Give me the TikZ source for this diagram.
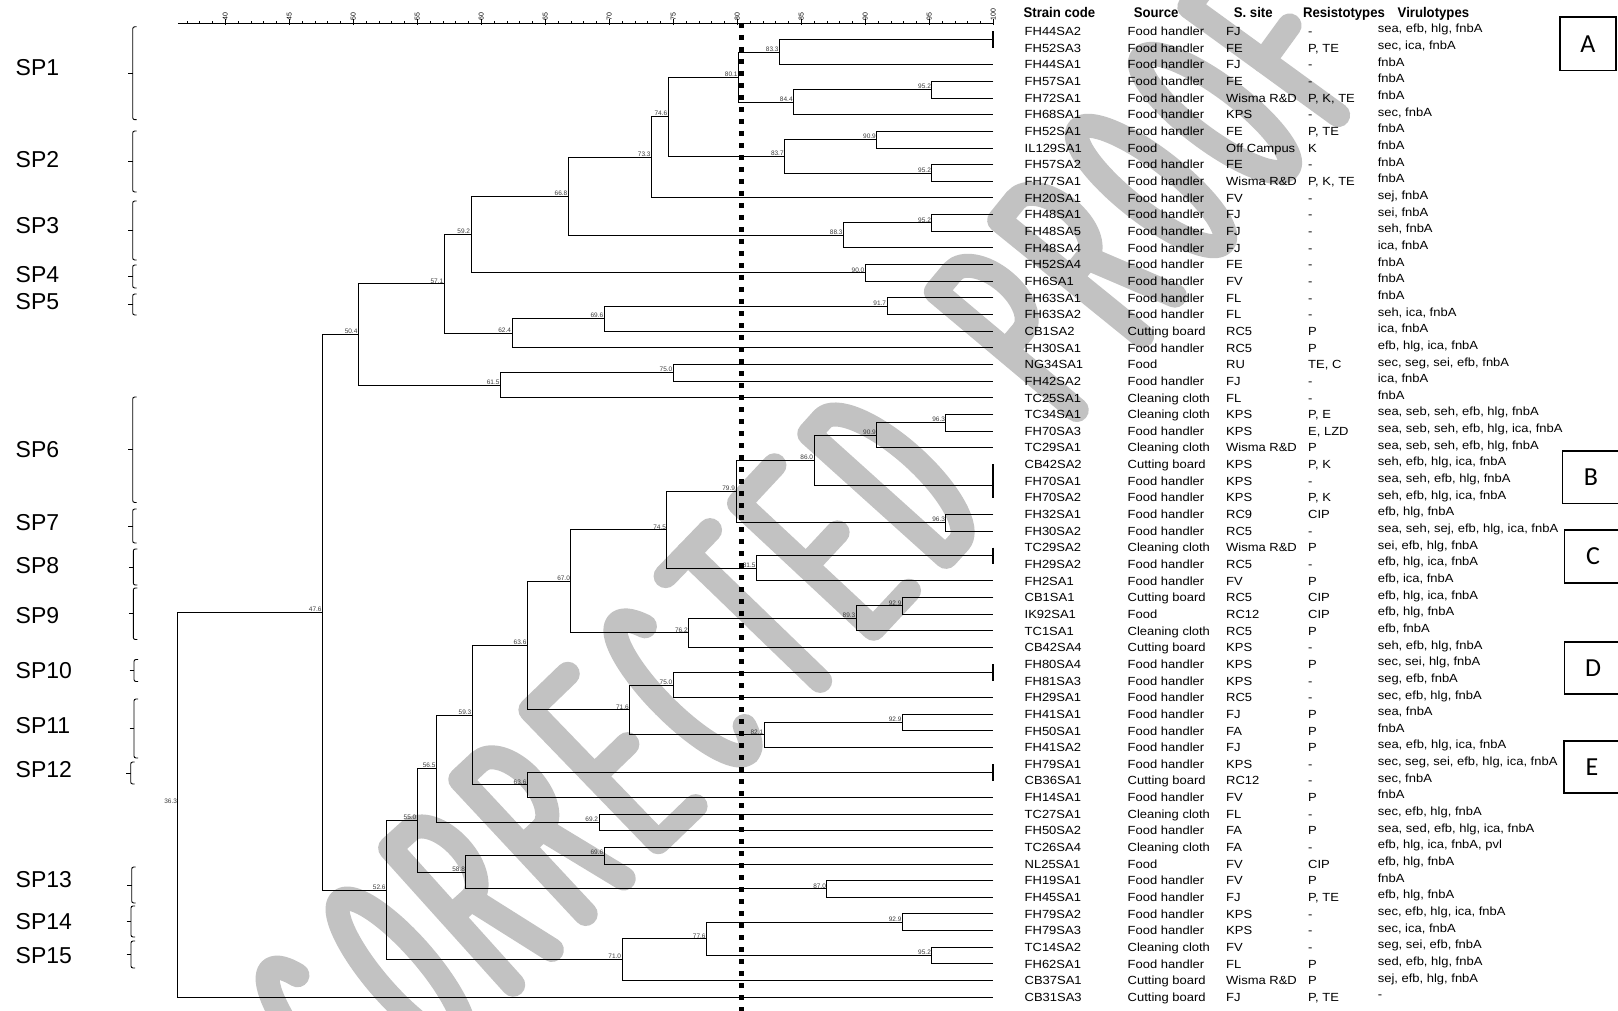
\documentclass[tikz,border=0pt]{standalone}
\usepackage{fontspec}
\setmainfont{Liberation Sans}
\newfontfamily\tabf[FakeStretch=1.1]{Liberation Sans}
\newfontfamily\hdrf[FakeStretch=0.94]{Liberation Sans}
\newfontfamily\boxf{Carlito}
\usetikzlibrary{calc}
\definecolor{wmgray}{RGB}{194,194,194}
\definecolor{labgray}{RGB}{60,60,60}

\newcommand\Xv[1]{(993.3-(100-#1)*12.8)}
\newcommand\Yr[1]{(31.5+(#1-1)*16.65)}

\newcommand\dnode[4]{%
  \path let \p1=(#3), \p2=(#4) in coordinate (#1) at ({\Xv{#2}*1pt},{(\y1+\y2)/2});
  \draw[dline] (#3) -| (#1) |- (#4);
  \node[vlab] (lab#1) at (#1) {#2};}
\newcommand\bnode[3]{%
  \draw[bline] (#2) -- (#3);
  \path let \p1=(#2), \p2=(#3) in coordinate (#1) at (\x1,{(\y1+\y2)/2});}
\newcommand\trow[6]{%
  \node[tcell] (code#1) at (1024.5,{-(\Yr{#1}+4.2)}) {#2};
  \node[tcell] (src#1) at (1127.5,{-(\Yr{#1}+4.2)}) {#3};
  \node[tcell] (site#1) at (1226,{-(\Yr{#1}+4.2)}) {#4};
  \node[tcell] (res#1) at (1308,{-(\Yr{#1}+4.2)}) {#5};
  \node[tcell] (vir#1) at (1377.6,{-(\Yr{#1}+1.5)}) {#6};}
\newcommand\spb[6]{%
  \node[splab] (#1) at (15.5,-#6) {#2};
  \draw[brk] ({#3+4},-#4) -- (#3,-#4) -- (#3,-#5) -- ({#3+4},-#5);
  \draw[brk] ({#3-4.5},{-(#4+#5)/2}) -- (#3,{-(#4+#5)/2});}

% watermark letters: half width 26, half height 92 (centre line)
\newcommand\wlC{\draw[wm] (16.7,70.5) arc[start angle=50,end angle=310,x radius=26,y radius=92];}
\newcommand\wlO{\draw[wm] (0,0) ellipse [x radius=26,y radius=92];}
\newcommand\wlR{\draw[wm] (-26,-92) -- (-26,92) -- (0,92) arc[start angle=90,end angle=-90,x radius=26,y radius=46] -- (-26,0); \draw[wm] (0,0) -- (26,-92);}
\newcommand\wlE{\draw[wm] (26,92) -- (-26,92) -- (-26,-92) -- (26,-92); \draw[wm] (-26,0) -- (20,0);}
\newcommand\wlT{\draw[wm] (-32,92) -- (32,92); \draw[wm] (0,92) -- (0,-92);}
\newcommand\wlD{\draw[wm] (-26,92) -- (-26,-92) -- (-6,-92) arc[start angle=-90,end angle=90,x radius=32,y radius=92] -- cycle;}
\newcommand\wlP{\draw[wm] (-26,-92) -- (-26,92) -- (0,92) arc[start angle=90,end angle=-90,x radius=26,y radius=46] -- (-26,0);}
\newcommand\wlF{\draw[wm] (26,92) -- (-26,92) -- (-26,-92); \draw[wm] (-26,0) -- (18,0);}
\newcommand\wmat[4]{\begin{scope}[shift={(#1,-#2)},rotate=#3]#4\end{scope}}

\tikzset{
  dline/.style={line width=1pt},
  bline/.style={line width=1.8pt},
  vlab/.style={anchor=south east, inner sep=0pt, xshift=-0.8pt, yshift=0.6pt, font=\fontsize{6.5}{7}\selectfont, text=labgray},
  tcell/.style={anchor=base west, inner sep=0pt, font=\tabf\fontsize{11.8}{13}\selectfont},
  thead/.style={anchor=base west, inner sep=0pt, font=\hdrf\bfseries\fontsize{14}{16}\selectfont},
  splab/.style={anchor=west, inner sep=0pt, font=\fontsize{23}{26}\selectfont},
  brk/.style={line width=0.9pt, rounded corners=2pt},
  boxline/.style={line width=1.6pt},
  boxlet/.style={inner sep=0pt, font=\boxf\fontsize{26}{30}\selectfont},
  wm/.style={draw=wmgray, line width=24pt, line cap=round, line join=round},
  axl/.style={rotate=90, anchor=west, inner sep=0pt, font=\fontsize{7}{8}\selectfont},
}

\begin{document}
\begin{tikzpicture}[x=1pt,y=1pt]
\useasboundingbox (0,0) rectangle (1618,-1011);
\fill[white] (0,0) rectangle (1618,-1011);

% watermark
\wmat{330}{1040}{40}{\wlC}
\wmat{401}{970}{41}{\wlO}
\wmat{471}{899}{42}{\wlR}
\wmat{542}{829}{43}{\wlR}
\wmat{613}{758}{44}{\wlE}
\wmat{683}{688}{45}{\wlC}
\wmat{754}{617}{46}{\wlT}
\wmat{824}{547}{47}{\wlE}
\wmat{895}{476}{48}{\wlD}
\wmat{1023}{331}{50}{\wlP}
\wmat{1087}{258}{51}{\wlR}
\wmat{1151}{186}{52}{\wlO}
\wmat{1215}{113}{53}{\wlO}
\wmat{1279}{40}{54}{\wlF}

% axis
\draw[line width=0.9pt] ({\Xv{36.3}},-23.3) -- (993.3,-23.3);
\foreach \v in {37,...,100} \draw[line width=0.7pt] ({\Xv{\v}},-23.3) -- ({\Xv{\v}},-21);
\foreach \v in {40,45,...,100} {
  \draw[line width=0.8pt] ({\Xv{\v}},-19.3) -- ({\Xv{\v}},-25.3);
  \node[axl] (ax\v) at ({\Xv{\v}},-20.6) {\v};
}

% leaves
\foreach \k in {1,...,59} \coordinate (L\k) at (993.3,{-\Yr{\k}});

% dendrogram
\bnode{a100}{L1}{L2}
\dnode{n833}{83.3}{a100}{L3}
\dnode{n952a}{95.2}{L4}{L5}
\dnode{n844}{84.4}{n952a}{L6}
\dnode{n801}{80.1}{n833}{n844}
\dnode{n909a}{90.9}{L7}{L8}
\dnode{n952b}{95.2}{L9}{L10}
\dnode{n837}{83.7}{n909a}{n952b}
\dnode{n746}{74.6}{n801}{n837}
\dnode{n733}{73.3}{n746}{L11}
\dnode{n952c}{95.2}{L12}{L13}
\dnode{n883}{88.3}{n952c}{L14}
\dnode{n668}{66.8}{n733}{n883}
\dnode{n900}{90.0}{L15}{L16}
\dnode{n592}{59.2}{n668}{n900}
\dnode{n917}{91.7}{L17}{L18}
\dnode{n696a}{69.6}{n917}{L19}
\dnode{n624}{62.4}{n696a}{L20}
\dnode{n571}{57.1}{n592}{n624}
\dnode{n750a}{75.0}{L21}{L22}
\dnode{n615}{61.5}{n750a}{L23}
\dnode{n504}{50.4}{n571}{n615}
\dnode{n963a}{96.3}{L24}{L25}
\dnode{n909b}{90.9}{n963a}{L26}
\draw[bline] (L27) -- (L29);
\path let \p1=(L27), \p2=(L28), \p3=(L29) in coordinate (b100) at (\x1,{((\y1+\y2)/2+\y3)/2});
\dnode{n860}{86.0}{n909b}{b100}
\dnode{n963b}{96.3}{L30}{L31}
\dnode{n799}{79.9}{n860}{n963b}
\bnode{c100}{L32}{L33}
\dnode{n815}{81.5}{c100}{L34}
\dnode{n745}{74.5}{n799}{n815}
\dnode{n929a}{92.9}{L35}{L36}
\dnode{n893}{89.3}{n929a}{L37}
\dnode{n762}{76.2}{n893}{L38}
\dnode{n670}{67.0}{n745}{n762}
\bnode{d100}{L39}{L40}
\dnode{n750b}{75.0}{d100}{L41}
\dnode{n929b}{92.9}{L42}{L43}
\dnode{n821}{82.1}{n929b}{L44}
\dnode{n716}{71.6}{n750b}{n821}
\dnode{n636a}{63.6}{n670}{n716}
\bnode{e100}{L45}{L46}
\dnode{n636b}{63.6}{e100}{L47}
\dnode{n593}{59.3}{n636a}{n636b}
\dnode{n692}{69.2}{L48}{L49}
\dnode{n565}{56.5}{n593}{n692}
\dnode{n696b}{69.6}{L50}{L51}
\dnode{n870}{87.0}{L52}{L53}
\dnode{n588}{58.8}{n696b}{n870}
\dnode{n550}{55.0}{n565}{n588}
\dnode{n929c}{92.9}{L54}{L55}
\dnode{n952d}{95.2}{L56}{L57}
\dnode{n776}{77.6}{n929c}{n952d}
\dnode{n710}{71.0}{n776}{L58}
\dnode{n526}{52.6}{n550}{n710}
\dnode{n476}{47.6}{n504}{n526}
\dnode{root}{36.3}{n476}{L59}

% cut-off line
\draw[line width=5pt, dash pattern=on 5pt off 7pt] (741,-23) -- (741,-1011);

% headers
\node[thead] (hcode) at (1023.4,-17.5) {Strain code};
\node[thead] (hsrc) at (1133.6,-17.5) {Source};
\node[thead] (hsite) at (1233.7,-17.5) {S. site};
\node[thead] (hres) at (1302.8,-17.5) {Resistotypes};
\node[thead] (hvir) at (1397.5,-17.5) {Virulotypes};

% table
\trow{1}{FH44SA2}{Food handler}{FJ}{-}{sea, efb, hlg, fnbA}
\trow{2}{FH52SA3}{Food handler}{FE}{P, TE}{sec, ica, fnbA}
\trow{3}{FH44SA1}{Food handler}{FJ}{-}{fnbA}
\trow{4}{FH57SA1}{Food handler}{FE}{-}{fnbA}
\trow{5}{FH72SA1}{Food handler}{Wisma R\&D}{P, K, TE}{fnbA}
\trow{6}{FH68SA1}{Food handler}{KPS}{-}{sec, fnbA}
\trow{7}{FH52SA1}{Food handler}{FE}{P, TE}{fnbA}
\trow{8}{IL129SA1}{Food}{Off Campus}{K}{fnbA}
\trow{9}{FH57SA2}{Food handler}{FE}{-}{fnbA}
\trow{10}{FH77SA1}{Food handler}{Wisma R\&D}{P, K, TE}{fnbA}
\trow{11}{FH20SA1}{Food handler}{FV}{-}{sej, fnbA}
\trow{12}{FH48SA1}{Food handler}{FJ}{-}{sei, fnbA}
\trow{13}{FH48SA5}{Food handler}{FJ}{-}{seh, fnbA}
\trow{14}{FH48SA4}{Food handler}{FJ}{-}{ica, fnbA}
\trow{15}{FH52SA4}{Food handler}{FE}{-}{fnbA}
\trow{16}{FH6SA1}{Food handler}{FV}{-}{fnbA}
\trow{17}{FH63SA1}{Food handler}{FL}{-}{fnbA}
\trow{18}{FH63SA2}{Food handler}{FL}{-}{seh, ica, fnbA}
\trow{19}{CB1SA2}{Cutting board}{RC5}{P}{ica, fnbA}
\trow{20}{FH30SA1}{Food handler}{RC5}{P}{efb, hlg, ica, fnbA}
\trow{21}{NG34SA1}{Food}{RU}{TE, C}{sec, seg, sei, efb, fnbA}
\trow{22}{FH42SA2}{Food handler}{FJ}{-}{ica, fnbA}
\trow{23}{TC25SA1}{Cleaning cloth}{FL}{-}{fnbA}
\trow{24}{TC34SA1}{Cleaning cloth}{KPS}{P, E}{sea, seb, seh, efb, hlg, fnbA}
\trow{25}{FH70SA3}{Food handler}{KPS}{E, LZD}{sea, seb, seh, efb, hlg, ica, fnbA}
\trow{26}{TC29SA1}{Cleaning cloth}{Wisma R\&D}{P}{sea, seb, seh, efb, hlg, fnbA}
\trow{27}{CB42SA2}{Cutting board}{KPS}{P, K}{seh, efb, hlg, ica, fnbA}
\trow{28}{FH70SA1}{Food handler}{KPS}{-}{sea, seh, efb, hlg, fnbA}
\trow{29}{FH70SA2}{Food handler}{KPS}{P, K}{seh, efb, hlg, ica, fnbA}
\trow{30}{FH32SA1}{Food handler}{RC9}{CIP}{efb, hlg, fnbA}
\trow{31}{FH30SA2}{Food handler}{RC5}{-}{sea, seh, sej, efb, hlg, ica, fnbA}
\trow{32}{TC29SA2}{Cleaning cloth}{Wisma R\&D}{P}{sei, efb, hlg, fnbA}
\trow{33}{FH29SA2}{Food handler}{RC5}{-}{efb, hlg, ica, fnbA}
\trow{34}{FH2SA1}{Food handler}{FV}{P}{efb, ica, fnbA}
\trow{35}{CB1SA1}{Cutting board}{RC5}{CIP}{efb, hlg, ica, fnbA}
\trow{36}{IK92SA1}{Food}{RC12}{CIP}{efb, hlg, fnbA}
\trow{37}{TC1SA1}{Cleaning cloth}{RC5}{P}{efb, fnbA}
\trow{38}{CB42SA4}{Cutting board}{KPS}{-}{seh, efb, hlg, fnbA}
\trow{39}{FH80SA4}{Food handler}{KPS}{P}{sec, sei, hlg, fnbA}
\trow{40}{FH81SA3}{Food handler}{KPS}{-}{seg, efb, fnbA}
\trow{41}{FH29SA1}{Food handler}{RC5}{-}{sec, efb, hlg, fnbA}
\trow{42}{FH41SA1}{Food handler}{FJ}{P}{sea, fnbA}
\trow{43}{FH50SA1}{Food handler}{FA}{P}{fnbA}
\trow{44}{FH41SA2}{Food handler}{FJ}{P}{sea, efb, hlg, ica, fnbA}
\trow{45}{FH79SA1}{Food handler}{KPS}{-}{sec, seg, sei, efb, hlg, ica, fnbA}
\trow{46}{CB36SA1}{Cutting board}{RC12}{-}{sec, fnbA}
\trow{47}{FH14SA1}{Food handler}{FV}{P}{fnbA}
\trow{48}{TC27SA1}{Cleaning cloth}{FL}{-}{sec, efb, hlg, fnbA}
\trow{49}{FH50SA2}{Food handler}{FA}{P}{sea, sed, efb, hlg, ica, fnbA}
\trow{50}{TC26SA4}{Cleaning cloth}{FA}{-}{efb, hlg, ica, fnbA, pvl}
\trow{51}{NL25SA1}{Food}{FV}{CIP}{efb, hlg, fnbA}
\trow{52}{FH19SA1}{Food handler}{FV}{P}{fnbA}
\trow{53}{FH45SA1}{Food handler}{FJ}{P, TE}{efb, hlg, fnbA}
\trow{54}{FH79SA2}{Food handler}{KPS}{-}{sec, efb, hlg, ica, fnbA}
\trow{55}{FH79SA3}{Food handler}{KPS}{-}{sec, ica, fnbA}
\trow{56}{TC14SA2}{Cleaning cloth}{FV}{-}{seg, sei, efb, fnbA}
\trow{57}{FH62SA1}{Food handler}{FL}{P}{sed, efb, hlg, fnbA}
\trow{58}{CB37SA1}{Cutting board}{Wisma R\&D}{P}{sej, efb, hlg, fnbA}
\trow{59}{CB31SA3}{Cutting board}{FJ}{P, TE}{-}

% boxes
\draw[boxline] (1560,-17.3) rectangle (1616,-70.7);
\node[boxlet] (bxA) at (1588,-44) {A};
\draw[boxline] (1562.5,-451) rectangle (1620,-503.5);
\node[boxlet] (bxB) at (1591,-477) {B};
\draw[boxline] (1564.5,-530) rectangle (1620,-583);
\node[boxlet] (bxC) at (1593,-556.5) {C};
\draw[boxline] (1564.5,-642) rectangle (1620,-694);
\node[boxlet] (bxD) at (1593,-668) {D};
\draw[boxline] (1563.7,-741) rectangle (1620,-793);
\node[boxlet] (bxE) at (1592,-767) {E};

% SP labels and brackets
\spb{sp1}{SP1}{132.7}{26.8}{119.7}{68}
\spb{sp2}{SP2}{132.7}{131}{192}{160}
\spb{sp3}{SP3}{132.7}{201}{260}{226}
\spb{sp4}{SP4}{132.7}{265}{288}{274.5}
\spb{sp5}{SP5}{132.7}{294}{315}{302}
\spb{sp6}{SP6}{132.7}{397}{502.5}{450}
\spb{sp7}{SP7}{132.7}{509}{543}{523}
\spb{sp8}{SP8}{133.3}{549}{585}{565.5}
\spb{sp9}{SP9}{133.3}{588}{639.5}{616}
\spb{sp10}{SP10}{134}{659.5}{681.5}{670.7}
\spb{sp11}{SP11}{134}{699}{758}{726}
\spb{sp12}{SP12}{130.7}{762}{784}{769.3}
\spb{sp13}{SP13}{131.7}{867}{903}{880}
\spb{sp14}{SP14}{131}{906}{937}{921.5}
\spb{sp15}{SP15}{131}{941}{968}{955.6}
\end{tikzpicture}
\end{document}
